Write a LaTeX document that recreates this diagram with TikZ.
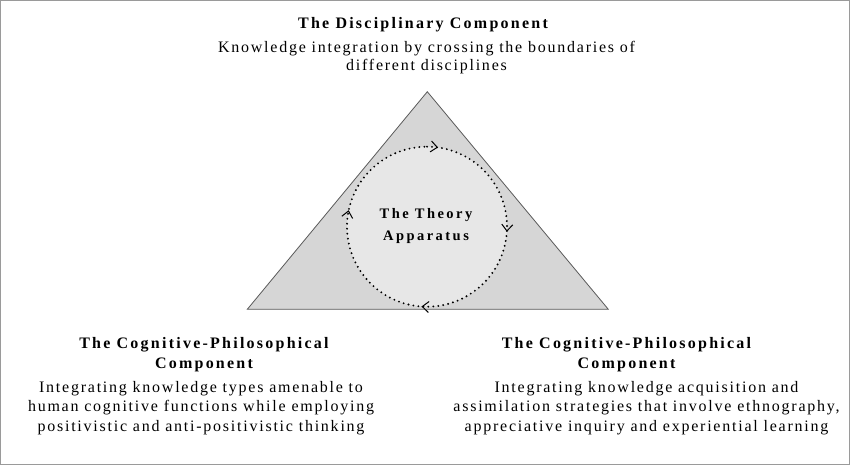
\documentclass[tikz,border=0pt]{standalone}
\usepackage{fontspec}
\setmainfont{Liberation Serif}
\newfontfamily\bodyfont[LetterSpace=11]{Liberation Serif}
\newfontfamily\headfont[LetterSpace=14]{Liberation Serif}
\newfontfamily\centerfont[LetterSpace=17]{Liberation Serif}
\usetikzlibrary{decorations.markings,arrows.meta,calc}
\definecolor{trigray}{HTML}{D6D6D6}
\definecolor{circgray}{HTML}{E7E7E7}
\definecolor{edgegray}{HTML}{5A5A5A}
\definecolor{framegray}{HTML}{9A9A9A}
\tikzset{
  headtext/.style={inner sep=0pt, anchor=north, align=center,
    font=\headfont\bfseries\fontsize{16}{20}\selectfont},
  bodytext/.style={inner sep=0pt, anchor=north, align=center,
    font=\bodyfont\fontsize{16}{19.5}\selectfont},
  centertext/.style={inner sep=0pt, anchor=north, align=center,
    font=\centerfont\bfseries\fontsize{14.5}{22}\selectfont},
  dotcircle/.style={line width=2.1pt, dash pattern=on 0pt off 5pt, line cap=round},
}
\newcommand{\chev}{\arrow{Straight Barb[length=6.5pt,width=11pt,line width=1pt]}}
\begin{document}
\begin{tikzpicture}[x=1pt,y=1pt]
\useasboundingbox (0,0) rectangle (850,-465);
\draw[framegray, line width=1pt] (0.5,-0.5) rectangle (849.5,-464.5);

% triangle
\coordinate (apex) at (427.3,-91.7);
\coordinate (br) at (608.3,-309.3);
\coordinate (bl) at (247.3,-309.3);
\draw[fill=trigray, draw=edgegray, line width=0.8pt] (apex) -- (br) -- (bl) -- cycle;

% circle
\coordinate (c) at (427,-226.7);
\coordinate (ctop) at (427,-146.7);
\fill[circgray] (c) circle[radius=80pt];
\draw[dotcircle, postaction={decorate, draw=none, decoration={markings,
    mark=at position 0.022 with {\chev},
    mark=at position 0.26 with {\chev},
    mark=at position 0.511 with {\chev},
    mark=at position 0.783 with {\chev}}}]
  (ctop) arc[start angle=90, end angle=-270, radius=80pt];

\node[centertext] (theory) at (426,-208.3) {The Theory\\Apparatus};

% top component
\node[headtext] (disctitle) at (423,-16.8) {The Disciplinary Component};
\node[bodytext, font=\bodyfont\fontsize{16}{17.6}\selectfont] (discbody) at (426.5,-41.5)
  {Knowledge integration by crossing the boundaries of\\different disciplines};

% left component
\node[headtext] (lefttitle) at (204,-337.5) {The Cognitive-Philosophical\\Component};
\node[bodytext] (leftbody) at (201,-380.7)
  {Integrating knowledge types amenable to\\human cognitive functions while employing\\positivistic and anti-positivistic thinking};

% right component
\node[headtext] (righttitle) at (626.5,-337.5) {The Cognitive-Philosophical\\Component};
\node[bodytext] (rightbody) at (646.5,-380.7)
  {Integrating knowledge acquisition and\\assimilation strategies that involve ethnography,\\appreciative inquiry and experiential learning};
\end{tikzpicture}
\end{document}
